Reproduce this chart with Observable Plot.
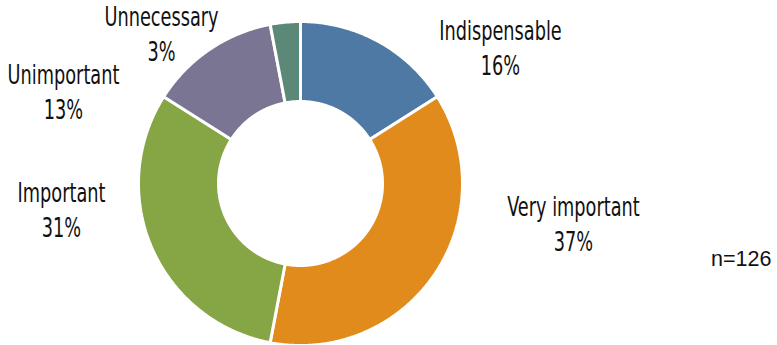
<!DOCTYPE html>
<html><head><meta charset="utf-8">
<script src="https://cdn.jsdelivr.net/npm/d3@7"></script>
<script src="https://cdn.jsdelivr.net/npm/@observablehq/plot@0.6"></script>
<style>html,body{margin:0;padding:0;background:#fff}svg{display:block}</style>
</head><body><div id="chart"></div>
<script>
// ---- data ----
const categories = ["Indispensable", "Very important", "Important", "Unimportant", "Unnecessary"];
const percents = [16, 37, 31, 13, 3];
const sampleSize = 126;

// ---- styling / layout ----
const colors = ["#4e79a5", "#e08b1c", "#86a544", "#7a7593", "#5b8877"];
const W = 777, H = 345;
const CX = 300, CY = 183;          // pie centre in pixels
const R_OUT = 162, R_IN = 82;
// label anchors (relative to centre, y down), name baseline
const labelPos = [[200, -144], [273, 32], [-239, 18], [-237, -100], [-139, -158]];
const LINE = 35;
const FS = 27;

// ---- build donut slice outlines from the percentages ----
const slicePts = [];
let cum = 0;
const total = d3.sum(percents);
categories.forEach((c, i) => {
  const a0 = cum / total * 2 * Math.PI;
  cum += percents[i];
  const a1 = cum / total * 2 * Math.PI;
  const steps = Math.max(2, Math.ceil((a1 - a0) / (Math.PI / 360)));
  const pts = [];
  for (let k = 0; k <= steps; k++) { const a = a0 + (a1 - a0) * k / steps; pts.push([R_OUT * Math.sin(a), -R_OUT * Math.cos(a)]); }
  for (let k = steps; k >= 0; k--) { const a = a0 + (a1 - a0) * k / steps; pts.push([R_IN * Math.sin(a), -R_IN * Math.cos(a)]); }
  pts.push(pts[0]);
  pts.forEach(([x, y]) => slicePts.push({category: c, x, y}));
});

const labels = categories.map((c, i) => ({category: c, pct: percents[i] + "%", x: labelPos[i][0], y: labelPos[i][1]}));

const labelFont = "'Liberation Sans Narrow', 'DejaVu Sans Condensed', 'DejaVu Sans', sans-serif";

const chart = Plot.plot({
  width: W, height: H,
  margin: 0,
  style: {background: "#fff"},
  x: {type: "linear", domain: [-CX, W - CX], range: [0, W], axis: null},
  y: {type: "linear", domain: [-CY, H - CY], range: [0, H], axis: null},
  color: {domain: categories, range: colors, legend: false},
  marks: [
    Plot.line(slicePts, {x: "x", y: "y", z: "category", fill: "category", stroke: "#fff", strokeWidth: 3, strokeLinejoin: "miter", curve: "linear"}),
    Plot.text(labels, {x: "x", y: "y", text: "category", lineAnchor: "bottom", fontSize: FS, fontFamily: labelFont, fill: "#111"}),
    Plot.text(labels, {x: "x", y: "y", text: "pct", lineAnchor: "bottom", dy: LINE, fontSize: FS, fontFamily: labelFont, fill: "#111"}),
    Plot.text([`n=${sampleSize}`], {x: 471, y: 82, text: d => d, textAnchor: "end", lineAnchor: "bottom", fontSize: 21.5, fontFamily: "'Liberation Sans', Arial, sans-serif", fill: "#111"})
  ]
});
document.getElementById("chart").appendChild(chart);

// condense the label glyphs to mimic the narrow display face
const labelTexts = new Set([...categories, ...percents.map(p => p + "%")]);
chart.querySelectorAll("text").forEach(t => {
  if (!labelTexts.has(t.textContent)) return;
  let w = t.getComputedTextLength();
  if (!w) w = t.getBBox().width;
  t.setAttribute("textLength", (w * 0.73).toFixed(1));
  t.setAttribute("lengthAdjust", "spacingAndGlyphs");
});
</script>
</body></html>
